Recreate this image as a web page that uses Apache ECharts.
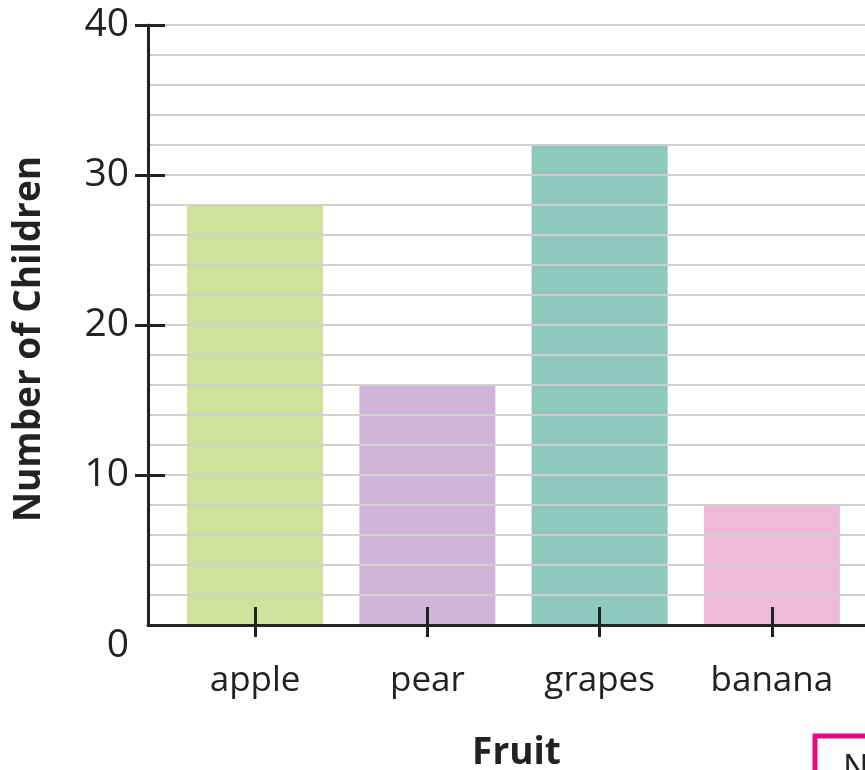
<!DOCTYPE html>
<html>
<head>
<meta charset="utf-8">
<script src="https://cdn.jsdelivr.net/npm/echarts@6/dist/echarts.min.js"></script>
<style>html,body{margin:0;padding:0;background:#fff}#c{width:865px;height:770px}</style>
</head>
<body>
<div id="c"></div>
<script>
const categories = ['apple', 'pear', 'grapes', 'banana'];
const values = [28, 16, 32, 8];
const barColors = ['#d1e09b', '#cfb5da', '#8dcabd', '#edbbd8'];
const yTickLabels = [0, 10, 20, 30, 40];
const xTitle = 'Fruit';
const yTitle = 'Number of Children';

const FONT = 'Open Sans';
const INK = '#222';

const chart = echarts.init(document.getElementById('c'));
chart.setOption({
  backgroundColor: '#fff',
  animation: false,
  grid: [
    { left: 148, right: -20, top: 25, bottom: 145, outerBoundsMode: 'none', containLabel: false },
    { left: 169, width: 689, top: 25, bottom: 145, outerBoundsMode: 'none', containLabel: false }
  ],
  xAxis: [
    {
      gridIndex: 0, type: 'value', min: 0, max: 1, position: 'bottom',
      name: xTitle, nameLocation: 'middle', nameGap: 110,
      nameTextStyle: { fontFamily: FONT, fontWeight: 'bold', fontSize: 37, color: INK },
      axisLine: { show: true, onZero: false, lineStyle: { color: INK, width: 3 } },
      axisTick: { show: false }, axisLabel: { show: false }, splitLine: { show: false },
      z: 6
    },
    {
      gridIndex: 1, type: 'category', data: categories, position: 'bottom', offset: -18, z: 10,
      axisLine: { show: false },
      axisTick: { show: true, alignWithLabel: true, length: 30, lineStyle: { color: INK, width: 3 } },
      axisLabel: { margin: 57, fontFamily: FONT, fontSize: 35, color: INK, letterSpacing: 1 }
    }
  ],
  yAxis: [
    {
      gridIndex: 0, type: 'value', min: 0, max: 40, interval: 2, position: 'left',
      axisLine: { show: true, onZero: false, lineStyle: { color: INK, width: 3 } },
      axisTick: { show: false }, axisLabel: { show: false },
      splitLine: { show: true, lineStyle: { color: '#d0d0d0', width: 2 } },
      name: yTitle, nameLocation: 'middle', nameGap: 100,
      nameTextStyle: { fontFamily: FONT, fontWeight: 'bold', fontSize: 37, color: INK, padding: [0, 28, 0, 0] },
      z: 6
    },
    {
      gridIndex: 0, type: 'value', min: 0, max: 40, interval: 10, position: 'left', offset: -17, z: 10,
      axisLine: { show: false, onZero: false },
      axisTick: { show: true, length: 30, customValues: yTickLabels.filter(v => v !== 0), lineStyle: { color: INK, width: 3 } },
      splitLine: { show: false },
      axisLabel: {
        margin: 36, fontFamily: FONT, fontSize: 39, color: INK,
        customValues: yTickLabels,
        formatter: v => v === 0 ? '{z|0}' : String(v),
        rich: { z: { fontFamily: FONT, fontSize: 39, lineHeight: 40, color: INK, padding: [42, 0, 0, 0] } }
      }
    },
    { gridIndex: 1, type: 'value', min: 0, max: 40, position: 'left', show: false }
  ],
  series: [{
    type: 'bar', xAxisIndex: 1, yAxisIndex: 2, barWidth: 136,
    data: values.map((v, i) => ({ value: v, itemStyle: { color: barColors[i] } }))
  }],
  graphic: [
    { type: 'rect', position: [815, 736], shape: { x: 0, y: 0, width: 120, height: 60 },
      style: { fill: '#fff', stroke: '#e5097f', lineWidth: 5 }, z: 20 },
    { type: 'text', position: [843, 752], style: { text: 'N', fontFamily: FONT, fontSize: 34, fill: INK }, z: 21 }
  ]
});
</script>
</body>
</html>
